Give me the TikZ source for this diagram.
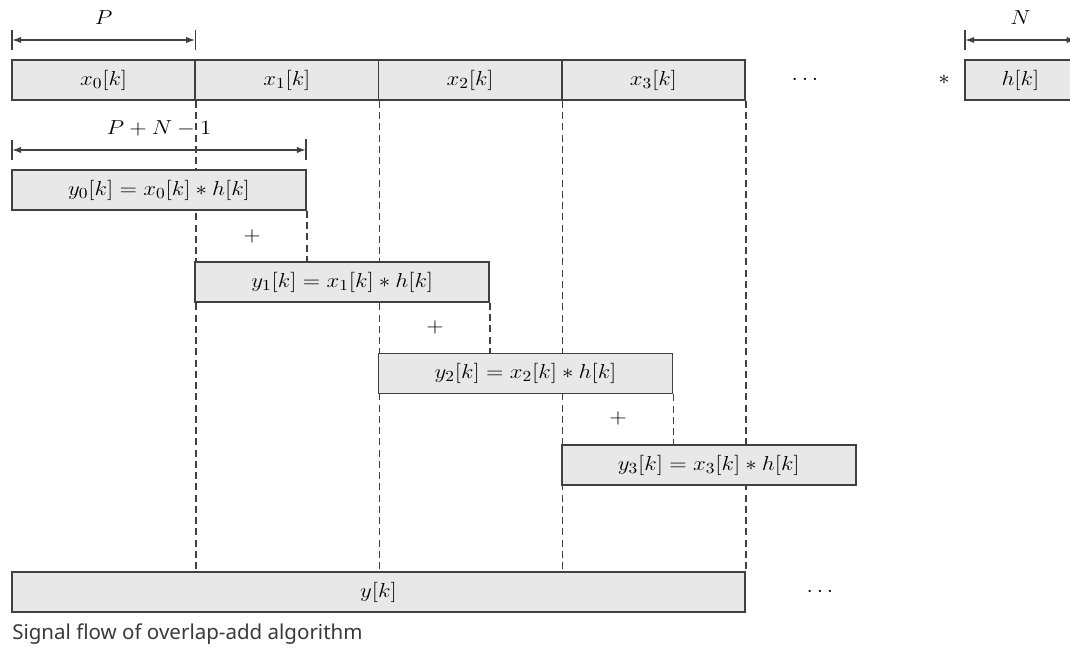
\documentclass[tikz,border=0pt]{standalone}
\usepackage{fontspec}
\usetikzlibrary{arrows.meta}
\newfontfamily\capfont{Noto Sans}
\newcommand\lbl[1]{\scalebox{1.13}[1]{$#1$}}
\definecolor{boxfill}{HTML}{E8E8E8}
\definecolor{edge}{HTML}{404040}
\definecolor{captext}{HTML}{3A3A3A}
\tikzset{
  box/.style={draw=edge, line width=1.2pt, fill=boxfill, minimum height=1cm, inner sep=0pt,
    font=\fontsize{15}{18}\selectfont},
  xbox/.style={box, minimum width=4.58125cm},
  ybox/.style={box, minimum width=7.35cm},
  guide/.style={draw=edge, line width=1.1pt, dash pattern=on 5pt off 3pt},
  dim/.style={draw=edge, line width=1pt, {Latex[length=6.5pt,width=4.5pt]}-{Latex[length=6.5pt,width=4.5pt]}},
  tick/.style={draw=edge, line width=1pt},
  lab/.style={font=\fontsize{15}{18}\selectfont, inner sep=0pt},
}
\begin{document}
\begin{tikzpicture}[x=0.025cm, y=-0.025cm]
\useasboundingbox (0,0) rectangle (1070,656);
\clip (0,0) rectangle (1070,656);
% input blocks
\node[xbox] (x0) at (103.625,80) {\lbl{x_0[k]}};
\node[xbox] (x1) at (286.875,80) {\lbl{x_1[k]}};
\node[xbox] (x2) at (470.125,80) {\lbl{x_2[k]}};
\node[xbox] (x3) at (653.375,80) {\lbl{x_3[k]}};
\node[lab] (dots1) at (805,80) {\lbl{\cdots}};
\node[lab] (star) at (944,80) {\lbl{*}};
\node[box, minimum width=2.76875cm] (h) at (1020.375,80) {\lbl{h[k]}};
% dimension P
\coordinate (pL) at (12,40);
\coordinate (pR) at (195.25,40);
\draw[tick] (pL) ++(0,-10) -- ++(0,20);
\draw[tick] (pR) ++(0,-10) -- ++(0,20);
\draw[dim] (pL) -- (pR);
\node[lab] (Plab) at (103.6,18) {\lbl{P}};
% dimension N
\coordinate (nL) at (965,40);
\coordinate (nR) at (1075.75,40);
\draw[tick] (nL) ++(0,-10) -- ++(0,20);
\draw[dim] (nL) -- (nR);
\node[lab] (Nlab) at (1020.4,18) {\lbl{N}};
% dimension P+N-1
\coordinate (qL) at (12,150);
\coordinate (qR) at (306,150);
\draw[tick] (qL) ++(0,-10) -- ++(0,20);
\draw[tick] (qR) ++(0,-11) -- ++(0,21);
\draw[dim] (qL) -- (qR);
\node[lab] (PNlab) at (159,128) {\lbl{P+N-1}};
% output block (placed first for guide references)
\node[box, minimum width=18.325cm] (Y) at (378.5,592) {\lbl{y[k]}};
% long guides
\draw[guide] (x0.south east) -- (x0.south east |- Y.north);
\draw[guide] (x1.south east) -- (x1.south east |- Y.north);
\draw[guide] (x2.south east) -- (x2.south east |- Y.north);
\draw[guide] (x3.south east) -- (x3.south east |- Y.north);
% partial outputs
\node[ybox] (y0) at (159,190) {\lbl{y_0[k] = x_0[k] * h[k]}};
\node[ybox] (y1) at (342.25,282) {\lbl{y_1[k] = x_1[k] * h[k]}};
\node[ybox] (y2) at (525.5,373.5) {\lbl{y_2[k] = x_2[k] * h[k]}};
\node[ybox] (y3) at (708.75,465) {\lbl{y_3[k] = x_3[k] * h[k]}};
% short guides
\draw[guide] (y0.south east) -- (y0.south east |- y1.north);
\draw[guide] (y1.south east) -- (y1.south east |- y2.north);
\draw[guide] (y2.south east) -- (y2.south east |- y3.north);
% plus signs
\node[lab] (p1) at (252,236) {\lbl{+}};
\node[lab] (p2) at (435,327) {\lbl{+}};
\node[lab] (p3) at (618,418) {\lbl{+}};
\node[lab] (dots2) at (820,592) {\lbl{\cdots}};
% caption
\node[anchor=west, inner sep=0pt, text=captext, font=\capfont\fontsize{14.6}{17}\selectfont] (cap) at (12,634) {Signal flow of overlap-add algorithm};
\end{tikzpicture}
\end{document}
